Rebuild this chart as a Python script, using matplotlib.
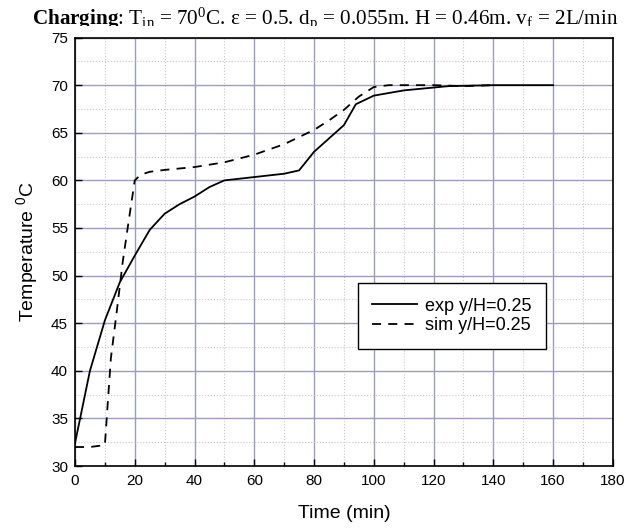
import numpy as np
import matplotlib.pyplot as plt
from matplotlib.ticker import MultipleLocator
from matplotlib.transforms import Bbox

plt.rcParams['font.family'] = ['Liberation Sans', 'DejaVu Sans']
plt.rcParams['mathtext.fontset'] = 'custom'
plt.rcParams['mathtext.rm'] = 'Liberation Serif'
plt.rcParams['mathtext.it'] = 'Liberation Serif:italic'
plt.rcParams['mathtext.bf'] = 'Liberation Serif:bold'

# experimental curve at y/H = 0.25
exp_t = [0, 5, 10, 15, 20, 25, 30, 35, 40, 45, 50, 60, 70, 75, 80, 90, 94, 100, 110, 120, 125, 140, 160]
exp_T = [32.4, 40.0, 45.3, 49.3, 52.1, 54.8, 56.5, 57.5, 58.3, 59.3, 60.0, 60.35, 60.7, 61.05, 63.0,
         65.8, 68.0, 68.9, 69.45, 69.75, 69.9, 70.0, 70.0]

# simulation curve at y/H = 0.25
sim_t = [0, 5, 10, 12, 14, 16, 18, 20, 22, 25, 30, 40, 50, 60, 70, 80, 85, 90, 95, 100, 105, 110, 120, 130, 140]
sim_T = [32.0, 32.0, 32.2, 41.3, 46.3, 51.5, 55.8, 60.0, 60.6, 60.9, 61.1, 61.4, 61.9, 62.7, 63.8,
         65.3, 66.3, 67.4, 68.8, 69.8, 70.0, 70.0, 70.0, 69.9, 70.0]

fig = plt.figure(figsize=(6.41, 5.29), dpi=100)
ax = fig.add_axes([0.117, 0.119, 0.839, 0.810])

ax.plot(exp_t, exp_T, color='black', lw=1.3, label='exp y/H=0.25')
ax.plot(sim_t, sim_T, color='black', lw=1.3, ls=(0, (5, 4)), label='sim y/H=0.25')

ax.set_xlim(0, 180)
ax.set_ylim(30, 75)
ax.xaxis.set_major_locator(MultipleLocator(20))
ax.xaxis.set_minor_locator(MultipleLocator(10))
ax.yaxis.set_major_locator(MultipleLocator(5))
ax.yaxis.set_minor_locator(MultipleLocator(2.5))

ax.grid(which='major', color='#9c9cc0', lw=1.0)
ax.grid(which='minor', color='#c8c8c8', lw=0.8, ls=':')
ax.set_axisbelow(True)

ax.tick_params(which='both', direction='in', top=False, right=False, labelsize=11)
ax.tick_params(which='major', length=5, width=1)
ax.tick_params(which='minor', length=3, width=1)
ax.tick_params(axis='x', pad=6)
ax.tick_params(axis='y', pad=5)
ax.tick_params(axis='y', which='minor', length=0)
for s in ax.spines.values():
    s.set_linewidth(1.2)

ax.set_xlabel('Time (min)', fontsize=14, labelpad=12)
ax.set_ylabel('Temperature $\\mathregular{^0}$C', fontsize=14, labelpad=8)

leg = ax.legend(loc='upper left', bbox_to_anchor=(0.526, 0.427), fontsize=13, frameon=True,
                fancybox=False, edgecolor='black', framealpha=1, handlelength=2.5,
                handletextpad=0.4, borderpad=0.8, labelspacing=0.15, borderaxespad=0)
leg.get_frame().set_linewidth(1.0)

title = fig.text(0.507, 0.955,
                 r'$\mathbf{Charging}$: T$_{\rm in}$ = 70$^0$C. ε = 0.5. d$_{\rm p}$ = 0.055m. H = 0.46m. v$_{\rm f}$ = 2L/min',
                 ha='center', va='baseline', fontsize=15.2, family=['Liberation Serif', 'DejaVu Serif'])
# the top caption is cut off just under its baseline, as in the source figure
title.set_clip_box(Bbox([[0, 503], [641, 529]]))
title.set_clip_on(True)

fig.savefig('out.png', dpi=100)
